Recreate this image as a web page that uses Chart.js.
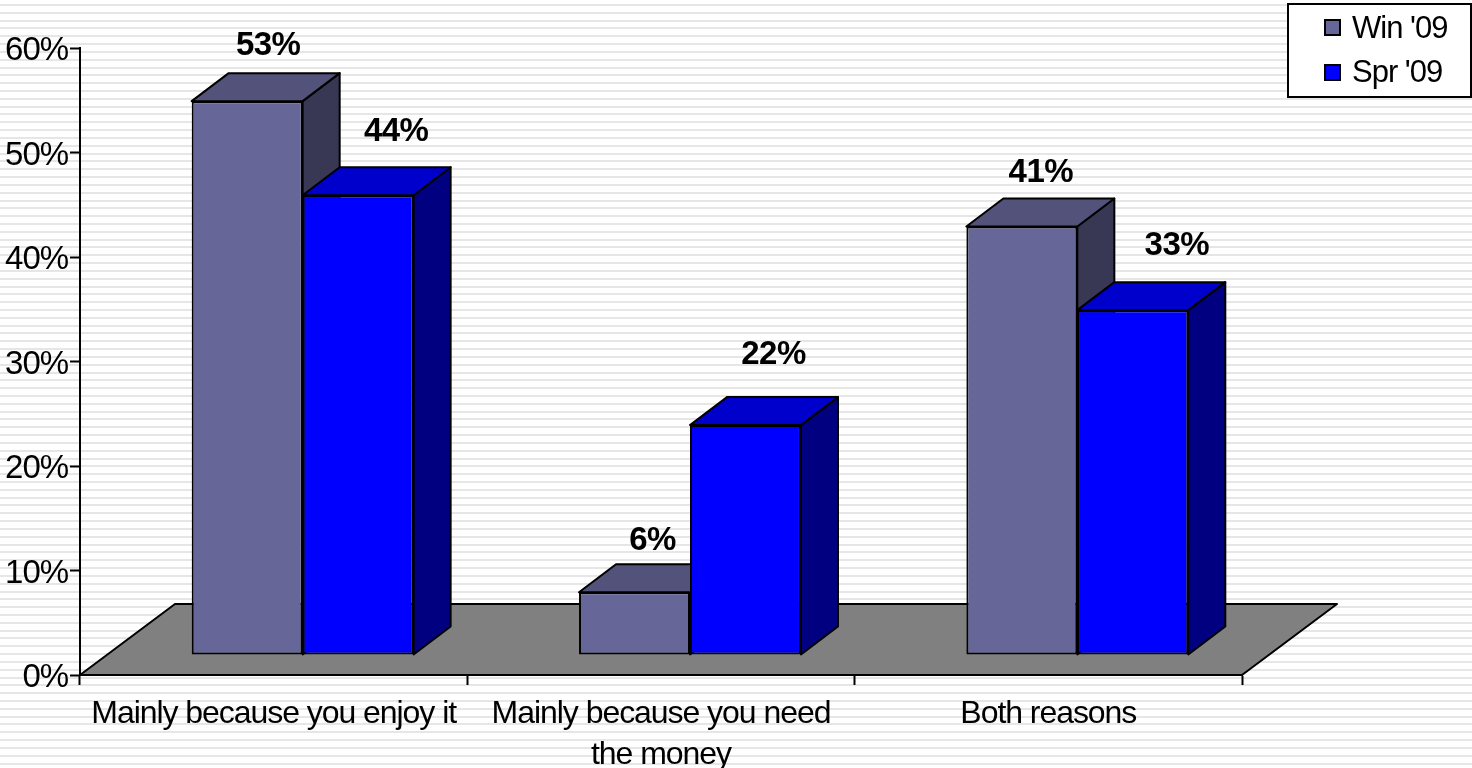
<!DOCTYPE html>
<html lang="en">
<head>
  <meta charset="UTF-8">
  <title>Reasons</title>
  <script src="https://cdn.jsdelivr.net/npm/chart.js"></script>
  <style>
    html, body {
      margin: 0;
      padding: 0;
      overflow: hidden;
    }
    body {
      width: 1472px;
      height: 768px;
      background-color: #fff;
      background-image: repeating-linear-gradient(to bottom, #fff 0, #fff 4px, #e6e6e6 4px, #e6e6e6 6px, #fff 6px, #fff 7.82px);
    }
    canvas {
      display: block;
    }
  </style>
</head>
<body>
  <canvas id="myChart" width="1472" height="768"></canvas>

  <script>
    // Data
    const categories = ['Mainly because you enjoy it', ['Mainly because you need', 'the money'], 'Both reasons'];
    const seriesNames = ["Win '09", "Spr '09"];
    const winValues = [53, 6, 41];
    const sprValues = [44, 22, 33];
    const yTicks = [0, 10, 20, 30, 40, 50, 60];

    const FONT = '"Liberation Sans", Arial, sans-serif';

    // Colours for the front, top and side of each series
    const faces = [
      { front: '#666699', top: '#52527a', side: '#383855' },
      { front: '#0000ff', top: '#0000cc', side: '#000080' }
    ];

    // The fake 3D: bars stand on a floor, pushed back from the axis
    const barShift = { x: 29, y: -20 };
    const barDepth = { x: 37, y: -28 };
    const floorDepth = { x: 95, y: -71 };

    // Where each value label sits relative to its bar top
    const labelNudge = [
      [{ x: 21, y: -46 }, { x: 18, y: -42 }, { x: 19, y: -45 }],
      [{ x: 38, y: -54 }, { x: 28, y: -61 }, { x: 44, y: -55 }]
    ];

    function polygon(ctx, points, fill) {
      ctx.beginPath();
      ctx.moveTo(points[0][0], points[0][1]);
      for (let i = 1; i < points.length; i++) {
        ctx.lineTo(points[i][0], points[i][1]);
      }
      ctx.closePath();
      ctx.fillStyle = fill;
      ctx.fill();
      ctx.stroke();
    }

    function drawBarSides(ctx, meta, f) {
      ctx.save();
      ctx.strokeStyle = '#000';
      ctx.lineWidth = 2;
      ctx.lineJoin = 'round';
      meta.data.forEach(bar => {
        const { x, y, width, base } = bar.getProps(['x', 'y', 'width', 'base'], true);
        const l = x - width / 2;
        const r = x + width / 2;
        polygon(ctx, [[r, y], [r + barDepth.x, y + barDepth.y], [r + barDepth.x, base + barDepth.y], [r, base]], f.side);
        polygon(ctx, [[l, y], [l + barDepth.x, y + barDepth.y], [r + barDepth.x, y + barDepth.y], [r, y]], f.top);
      });
      ctx.restore();
    }

    const scene3d = {
      id: 'scene3d',
      beforeDraw(chart) {
        chart.ctx.letterSpacing = '-1.05px';
        // y labels sit a little lower than the tick in the original
        const items = chart.scales.y.getLabelItems();
        if (!items.nudged) {
          items.forEach(it => { it.options.translation[1] += 3; });
          items.nudged = true;
        }
      },
      beforeDatasetsDraw(chart) {
        // floor
        const { ctx, chartArea: a } = chart;
        ctx.save();
        ctx.strokeStyle = '#000';
        ctx.lineWidth = 2;
        ctx.lineJoin = 'round';
        polygon(ctx, [
          [a.left, a.bottom],
          [a.left + floorDepth.x, a.bottom + floorDepth.y],
          [a.right + floorDepth.x, a.bottom + floorDepth.y],
          [a.right, a.bottom]
        ], '#808080');
        ctx.restore();
      },
      // Chart.js paints dataset 0 last, here the later series has to cover the earlier one
      beforeDatasetDraw() {
        return false;
      },
      afterDatasetsDraw(chart) {
        const ctx = chart.ctx;
        chart.data.datasets.forEach((ds, i) => {
          const meta = chart.getDatasetMeta(i);
          ctx.save();
          ctx.translate(barShift.x, barShift.y);
          drawBarSides(ctx, meta, faces[i]);
          meta.controller.draw();
          ctx.restore();
        });

        ctx.save();
        ctx.fillStyle = '#000';
        ctx.font = 'bold 33px ' + FONT;
        ctx.letterSpacing = '-0.5px';
        ctx.textAlign = 'center';
        ctx.textBaseline = 'alphabetic';
        chart.data.datasets.forEach((ds, i) => {
          chart.getDatasetMeta(i).data.forEach((bar, j) => {
            const n = labelNudge[i][j];
            ctx.fillText(ds.data[j] + '%', bar.x + barShift.x + n.x, bar.y + barShift.y + n.y);
          });
        });
        ctx.restore();
        drawLegend(chart);
      }
    };

    function drawLegend(chart) {
      const ctx = chart.ctx;
      ctx.save();
      ctx.fillStyle = '#fff';
      ctx.strokeStyle = '#000';
      ctx.lineWidth = 2;
      ctx.fillRect(1288, 4, 183, 93);
      ctx.strokeRect(1288, 4, 183, 93);
      ctx.font = '31px ' + FONT;
      ctx.letterSpacing = '-1px';
      ctx.textBaseline = 'alphabetic';
      ctx.textAlign = 'left';
      chart.data.datasets.forEach((ds, i) => {
        const top = i === 0 ? 20 : 65;
        ctx.fillStyle = ds.backgroundColor;
        ctx.fillRect(1325, top, 15, 15);
        ctx.strokeRect(1325, top, 15, 15);
        ctx.fillStyle = '#000';
        ctx.fillText(ds.label, 1352, top + (i === 0 ? 18 : 17));
      });
      ctx.restore();
    }

    const ctx = document.getElementById('myChart').getContext('2d');
    const myChart = new Chart(ctx, {
      type: 'bar',
      data: {
        labels: categories,
        datasets: [
          { label: seriesNames[0], data: winValues, backgroundColor: faces[0].front },
          { label: seriesNames[1], data: sprValues, backgroundColor: faces[1].front }
        ].map(ds => Object.assign(ds, {
          borderColor: '#000',
          borderWidth: 2,
          borderSkipped: false,
          categoryPercentage: 0.573,
          barPercentage: 1,
          clip: false
        }))
      },
      plugins: [scene3d],
      options: {
        responsive: false,
        animation: false,
        devicePixelRatio: 1,
        layout: { padding: { top: 48, right: 230, left: 0, bottom: 0 } },
        plugins: {
          legend: { display: false },
          tooltip: { enabled: false }
        },
        scales: {
          x: {
            afterFit(scale) { scale.height = 93; },
            border: { color: '#000', width: 2 },
            grid: { drawOnChartArea: false, color: '#000', tickColor: '#000', tickLength: 10, tickWidth: 2 },
            ticks: {
              color: '#000',
              font: { family: FONT, size: 32, lineHeight: 1.3 },
              maxRotation: 0,
              autoSkip: false,
              padding: 8
            }
          },
          y: {
            min: yTicks[0],
            max: yTicks[yTicks.length - 1],
            afterFit(scale) { scale.width = 80; },
            afterBuildTicks(scale) { scale.ticks = yTicks.map(v => ({ value: v })); },
            border: { color: '#000', width: 2 },
            grid: { drawOnChartArea: false, color: '#000', tickColor: '#000', tickLength: 10, tickWidth: 2 },
            ticks: {
              color: '#000',
              font: { family: FONT, size: 33 },
              padding: 2,
              callback: v => v + '%'
            }
          }
        }
      }
    });
  </script>
</body>
</html>
